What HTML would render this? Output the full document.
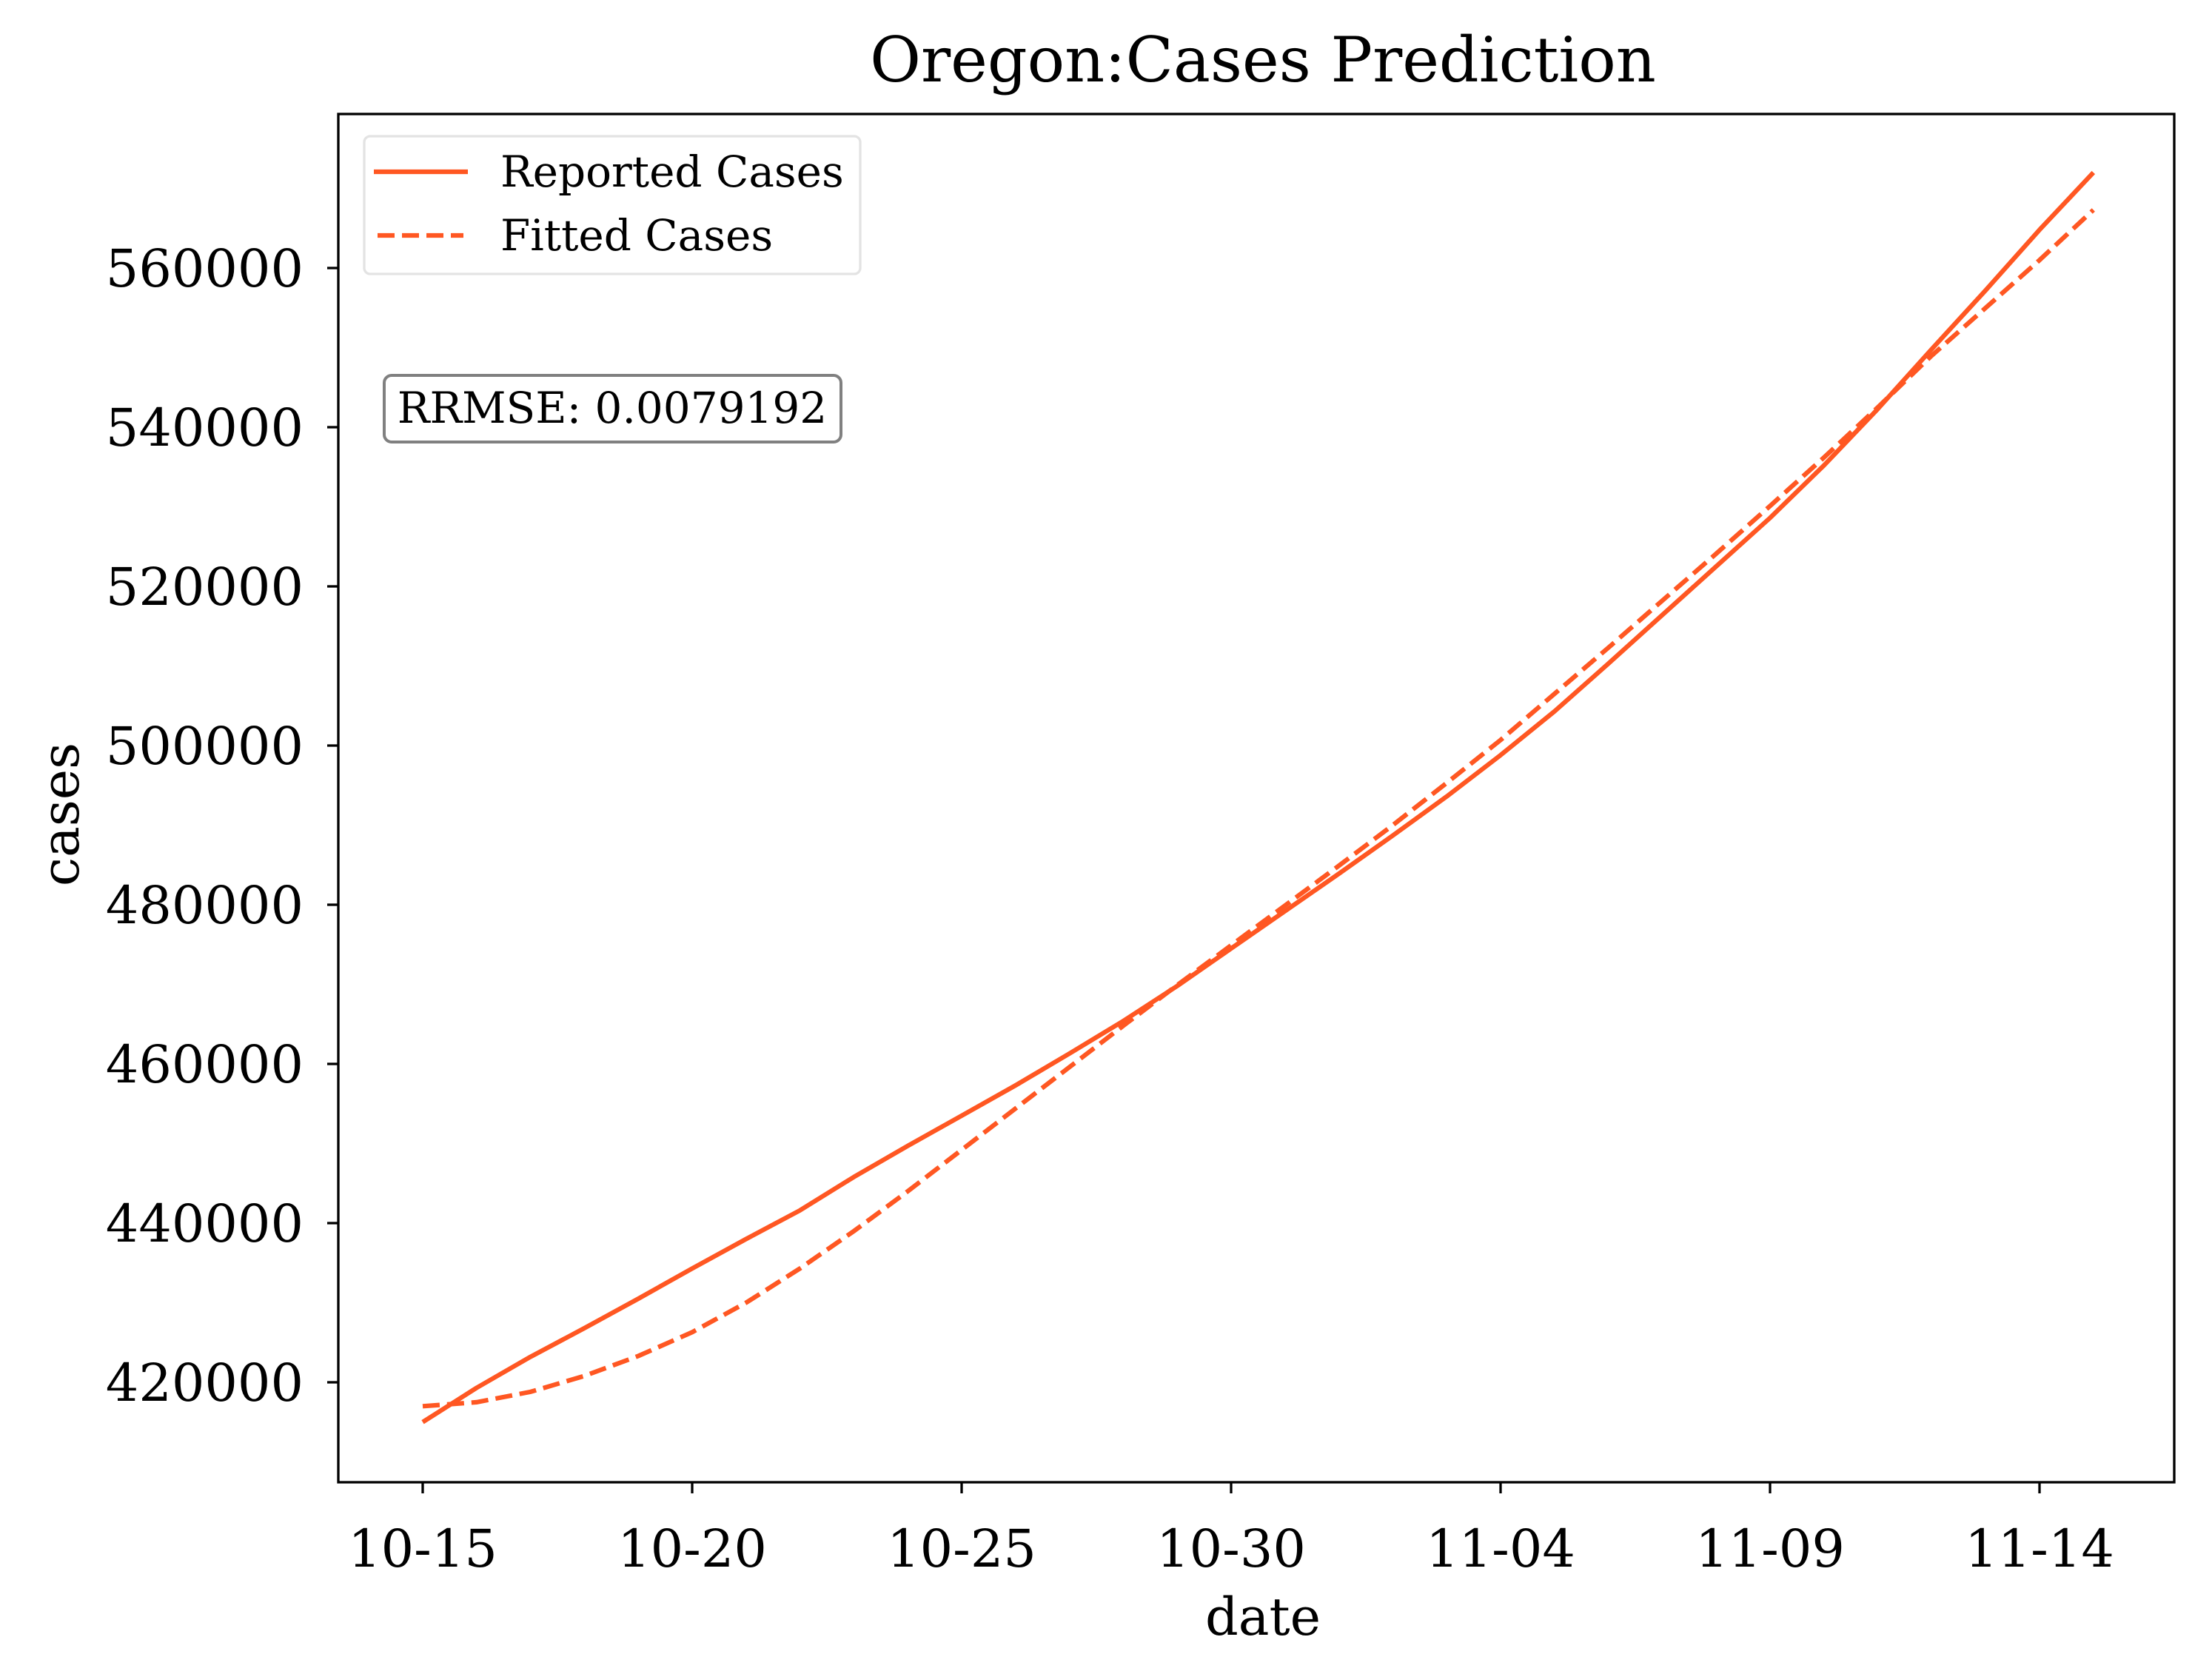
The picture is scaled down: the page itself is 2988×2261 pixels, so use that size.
<!DOCTYPE html>
<html><head><meta charset="utf-8"><style>
body{margin:0;background:#fff;}
svg{display:block;font-family:"DejaVu Serif","Liberation Serif",serif;}
</style></head><body>
<svg id="chart" width="2988" height="2261" viewBox="0 0 2988 2261">
<rect width="2988" height="2261" fill="#fff"/>
<g id="plot"></g>
</svg>
<script>
const dateLabels = ["10-15","10-20","10-25","10-30","11-04","11-09","11-14"];
const dateTickIdx = [0,5,10,15,20,25,30];
const yTicks = [420000,440000,460000,480000,500000,520000,540000,560000];
const reported = [415000,419300,423200,426800,430500,434300,438000,441600,445800,449700,453500,457300,461300,465400,469800,474500,479200,483900,488700,493600,498800,504300,510300,516400,522500,528600,535200,542300,549800,557200,564800,572000];
const fitted = [417000,417500,418800,420800,423300,426300,430000,434300,439000,444000,449200,454400,459600,464800,469900,474900,479900,484900,490000,495300,500700,506500,512300,518200,524100,530100,536200,542500,549000,555000,561000,567300];

const NS="http://www.w3.org/2000/svg";
const L=457,R=2937,T=154,B=2002;
function xS(d){return 571+d*72.8;}
function yS(v){return 1867-(v-420000)/20000*215;}
const g=document.getElementById('plot');
function mk(tag,attrs,text){const e=document.createElementNS(NS,tag);for(const k in attrs)e.setAttribute(k,attrs[k]);if(text!==undefined)e.textContent=text;g.appendChild(e);return e;}

function path(arr){return arr.map((v,i)=>(i?'L':'M')+xS(i).toFixed(1)+' '+yS(v).toFixed(1)).join(' ');}
let p=mk('path',{d:path(reported),fill:'none',stroke:'#ff5722','stroke-width':6.2,'stroke-linejoin':'round'});


p=mk('path',{d:path(fitted),fill:'none',stroke:'#ff5722','stroke-width':6.2,'stroke-dasharray':'23 10'});



let ax=mk('rect',{x:L,y:T,width:R-L,height:B-T,fill:'none',stroke:'#000','stroke-width':3.3});



dateTickIdx.forEach((d,i)=>{
  const x=xS(d);
  let t=mk('line',{x1:x,x2:x,y1:B,y2:B+15,stroke:'#000','stroke-width':3.3});
  
  
  let l=mk('text',{x:x,y:2116,'font-size':70,'text-anchor':'middle'},dateLabels[i]);
  
  
});
yTicks.forEach(v=>{
  const y=yS(v);
  let t=mk('line',{x1:L-15,x2:L,y1:y,y2:y,stroke:'#000','stroke-width':3.3});
  
  
  let l=mk('text',{x:410,y:y+25,'font-size':70,'text-anchor':'end'},String(v));
  
  
});
let e;
e=mk('text',{x:1706,y:110,'font-size':84,'text-anchor':'middle'},'Oregon:Cases Prediction');


e=mk('text',{x:1706,y:2208,'font-size':70,'text-anchor':'middle'},'date');


e=mk('text',{x:0,y:0,'font-size':70,'text-anchor':'middle',transform:'translate(106 1100) rotate(-90)'},'cases');



e=mk('rect',{x:492,y:184,width:670,height:186,rx:8,fill:'#fff',stroke:'#e3e3e3','stroke-width':3.3});


e=mk('line',{x1:505,x2:632,y1:232,y2:232,stroke:'#ff5722','stroke-width':6.2});


e=mk('text',{x:676,y:252,'font-size':58},'Reported Cases');


e=mk('line',{x1:510,x2:626,y1:318,y2:318,stroke:'#ff5722','stroke-width':6.2,'stroke-dasharray':'23 10'});


e=mk('text',{x:676,y:338,'font-size':58},'Fitted Cases');



e=mk('rect',{x:519,y:507,width:617,height:90,rx:10,fill:'#fff',stroke:'#808080','stroke-width':4});


e=mk('text',{x:827,y:571,'font-size':58,'text-anchor':'middle'},'RRMSE: 0.0079192');


</script>
</body></html>
